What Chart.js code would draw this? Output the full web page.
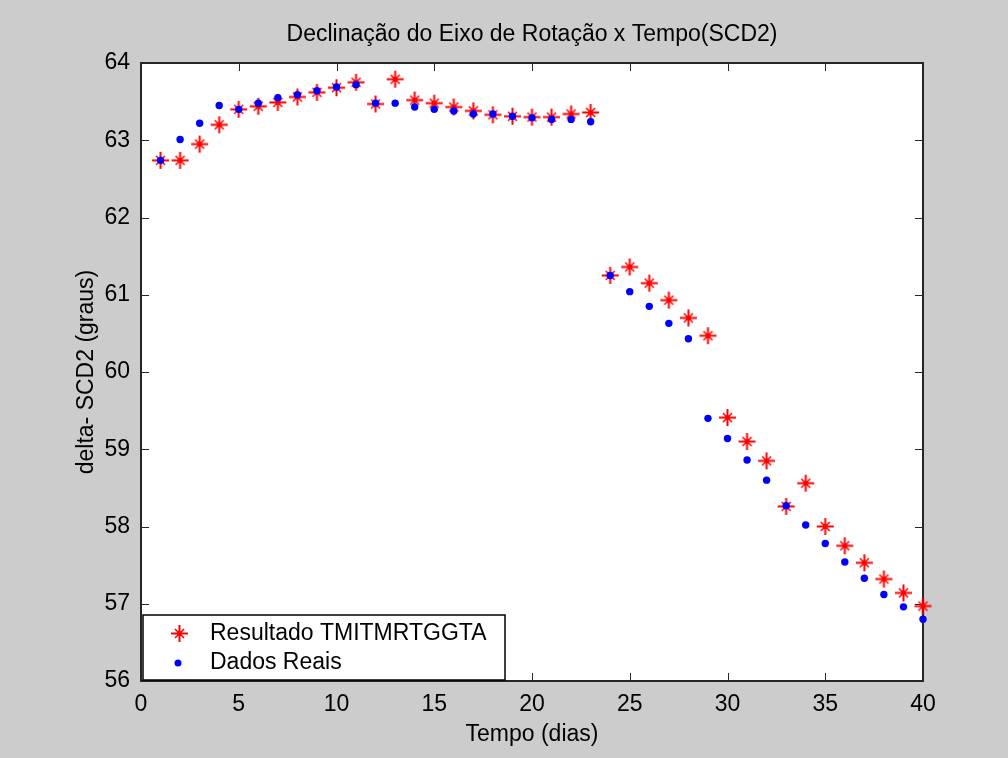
<!DOCTYPE html>
<html>
<head>
<meta charset="utf-8">
<script src="https://cdn.jsdelivr.net/npm/chart.js@4/dist/chart.umd.min.js"></script>
<style>
  body { margin: 0; background: #cccccc; }
  #box { width: 1008px; height: 758px; position: relative; }
</style>
</head>
<body>
<div id="box"><canvas id="grafico"></canvas></div>
<script>
// dados
var dias = [1, 2, 3, 4, 5, 6, 7, 8, 9, 10, 11, 12, 13, 14, 15, 16, 17, 18, 19, 20,
            21, 22, 23, 24, 25, 26, 27, 28, 29, 30, 31, 32, 33, 34, 35, 36, 37, 38, 39, 40];
var resultado = [62.74, 62.74, 62.95, 63.20, 63.40, 63.44, 63.49, 63.56, 63.62, 63.68,
                 63.75, 63.47, 63.79, 63.52, 63.48, 63.43, 63.38, 63.33, 63.31, 63.30,
                 63.30, 63.34, 63.36, 61.25, 61.36, 61.15, 60.93, 60.70, 60.47, 59.41,
                 59.10, 58.85, 58.26, 58.56, 58.00, 57.75, 57.53, 57.32, 57.14, 56.97];
var reais = [62.74, 63.01, 63.22, 63.45, 63.40, 63.48, 63.55, 63.59, 63.64, 63.69,
             63.72, 63.48, 63.48, 63.43, 63.40, 63.38, 63.34, 63.34, 63.31, 63.29,
             63.27, 63.27, 63.24, 61.25, 61.04, 60.85, 60.63, 60.43, 59.40, 59.14,
             58.86, 58.60, 58.27, 58.02, 57.78, 57.54, 57.33, 57.12, 56.96, 56.80];
var ticksX = [0, 5, 10, 15, 20, 25, 30, 35, 40];
var ticksY = [56, 57, 58, 59, 60, 61, 62, 63, 64];

var fonte = "'Liberation Sans', Arial, sans-serif";
Chart.defaults.font.family = fonte;
Chart.defaults.font.size = 23;
Chart.defaults.color = '#000';

// asterisco estilo matlab
function criaAsterisco(cor) {
  var c = document.createElement('canvas');
  c.width = 19; c.height = 19;
  var g = c.getContext('2d');
  g.strokeStyle = cor;
  g.lineWidth = 2;
  g.beginPath();
  g.moveTo(1, 9.5); g.lineTo(18, 9.5);
  g.moveTo(9.5, 1); g.lineTo(9.5, 18);
  g.stroke();
  g.lineWidth = 1.5;
  g.beginPath();
  g.moveTo(5, 5); g.lineTo(14, 14);
  g.moveTo(14, 5); g.lineTo(5, 14);
  g.stroke();
  g.fillStyle = cor;
  g.beginPath(); g.arc(9.5, 9.5, 2.5, 0, Math.PI * 2); g.fill();
  return c;
}
var estrela = criaAsterisco('#ff0000');

function pontos(ys) {
  return dias.map(function (d, i) { return { x: d, y: ys[i] }; });
}

// moldura com ticks para dentro, nos quatro lados
var moldura = {
  id: 'moldura',
  beforeDraw: function (chart) {
    var a = chart.chartArea, ctx = chart.ctx;
    ctx.save();
    ctx.fillStyle = '#fff';
    ctx.fillRect(a.left, a.top, a.right - a.left, a.bottom - a.top);
    ctx.restore();
  },
  beforeDatasetsDraw: function (chart) {
    var a = chart.chartArea, ctx = chart.ctx;
    var sx = chart.scales.x, sy = chart.scales.y;
    ctx.save();
    ctx.strokeStyle = '#262626';
    ctx.lineWidth = 1;
    ctx.beginPath();
    ticksX.forEach(function (v) {
      var px = Math.round(sx.getPixelForValue(v)) + 0.5;
      ctx.moveTo(px, a.bottom); ctx.lineTo(px, a.bottom - 8);
      ctx.moveTo(px, a.top); ctx.lineTo(px, a.top + 8);
    });
    ticksY.forEach(function (v) {
      var py = Math.round(sy.getPixelForValue(v)) + 0.5;
      ctx.moveTo(a.left, py); ctx.lineTo(a.left + 8, py);
      ctx.moveTo(a.right, py); ctx.lineTo(a.right - 8, py);
    });
    ctx.stroke();
    ctx.lineWidth = 2;
    ctx.strokeRect(a.left, a.top, a.right - a.left, a.bottom - a.top);
    ctx.restore();
  },
  afterDraw: function (chart) {
    // legenda dentro do grafico, canto inferior esquerdo
    var a = chart.chartArea, ctx = chart.ctx;
    var x0 = a.left + 2, y0 = a.bottom - 66, w = 362, h = 65;
    ctx.save();
    ctx.fillStyle = '#fff';
    ctx.fillRect(x0, y0, w, h);
    ctx.strokeStyle = '#000';
    ctx.lineWidth = 1.5;
    ctx.strokeRect(x0, y0, w, h);
    var ds = chart.data.datasets;
    ctx.drawImage(estrela, x0 + 27, y0 + 9);
    ctx.fillStyle = '#0000ff';
    ctx.beginPath(); ctx.arc(x0 + 35, y0 + 48, 3.5, 0, Math.PI * 2); ctx.fill();
    ctx.fillStyle = '#000';
    ctx.font = '23px ' + fonte;
    ctx.textBaseline = 'middle';
    ctx.fillText(ds[0].label, x0 + 67, y0 + 19);
    ctx.fillText(ds[1].label, x0 + 67, y0 + 48);
    ctx.restore();
  }
};

var ctx = document.getElementById('grafico').getContext('2d');
var chart = new Chart(ctx, {
  type: 'scatter',
  data: {
    datasets: [{
      label: 'Resultado TMITMRTGGTA',
      data: pontos(resultado),
      pointStyle: estrela,
      order: 1,
      clip: false
    }, {
      label: 'Dados Reais',
      data: pontos(reais),
      pointStyle: 'circle',
      pointRadius: 3.7,
      pointBackgroundColor: '#0000ff',
      pointBorderWidth: 0,
      order: 0,
      clip: false
    }]
  },
  options: {
    responsive: true,
    maintainAspectRatio: false,
    animation: false,
    layout: { padding: { left: 73, right: 85, top: 0, bottom: 0 } },
    plugins: {
      legend: { display: false },
      tooltip: { enabled: false },
      title: {
        display: true,
        fullSize: false,
        text: 'Declinação do Eixo de Rotação x Tempo(SCD2)',
        font: { size: 23, weight: 'normal' },
        color: '#000',
        padding: { top: 21, bottom: 14.4 }
      }
    },
    scales: {
      x: {
        type: 'linear',
        min: 0, max: 40,
        afterBuildTicks: function (s) { s.ticks = ticksX.map(function (v) { return { value: v }; }); },
        afterFit: function (s) { s.height = 77; },
        ticks: { padding: 10, maxRotation: 0 },
        grid: { display: false, drawTicks: false },
        border: { display: false },
        title: { display: true, text: 'Tempo (dias)', padding: { top: 0, bottom: 10 } }
      },
      y: {
        type: 'linear',
        min: 56, max: 64,
        afterBuildTicks: function (s) { s.ticks = ticksY.map(function (v) { return { value: v }; }); },
        afterFit: function (s) { s.width = 68; },
        ticks: { padding: 11 },
        grid: { display: false, drawTicks: false },
        border: { display: false },
        title: { display: true, text: 'delta- SCD2 (graus)', padding: { top: 0, bottom: 0 } }
      }
    }
  },
  plugins: [moldura]
});
</script>
</body>
</html>
